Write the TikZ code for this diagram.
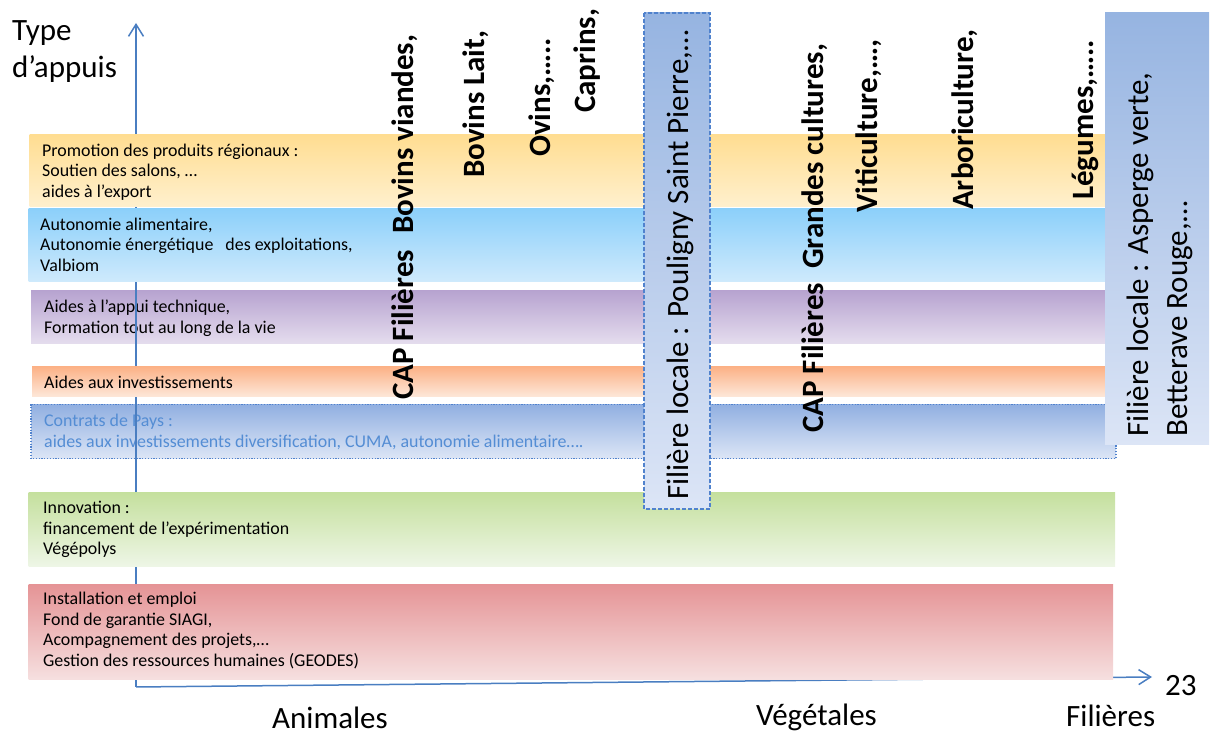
\documentclass[tikz,border=0pt]{standalone}
\usepackage{fontspec}
\setmainfont{Carlito}
\usetikzlibrary{arrows.meta}
\definecolor{axisblue}{RGB}{74,126,193}
\definecolor{yelT}{RGB}{255,221,145}\definecolor{yelB}{RGB}{255,240,206}
\definecolor{bluT}{RGB}{140,208,250}\definecolor{bluB}{RGB}{207,234,252}
\definecolor{purT}{RGB}{183,163,208}\definecolor{purB}{RGB}{229,221,238}
\definecolor{oraT}{RGB}{252,178,135}\definecolor{oraB}{RGB}{253,232,218}
\definecolor{conT}{RGB}{145,175,225}\definecolor{conB}{RGB}{220,229,246}
\definecolor{conLine}{RGB}{80,130,205}\definecolor{conText}{RGB}{84,141,212}
\definecolor{greT}{RGB}{197,224,158}\definecolor{greB}{RGB}{238,246,230}
\definecolor{redT}{RGB}{229,148,150}\definecolor{redB}{RGB}{246,224,224}
\definecolor{boxT}{RGB}{150,180,225}\definecolor{boxB}{RGB}{220,229,246}
\tikzset{
  bandtext/.style={anchor=base west, align=left, inner sep=0pt, text=black,
    font=\fontsize{17.9}{20.5}\selectfont},
  vtext/.style={rotate=90, anchor=base west, inner sep=0pt, text=black,
    font=\fontsize{31}{39}\selectfont\bfseries},
  vtextreg/.style={rotate=90, anchor=base west, inner sep=0pt, text=black, align=left,
    font=\fontsize{31}{39}\selectfont},
  bigtext/.style={anchor=base west, inner sep=0pt, text=black, align=left,
    font=\fontsize{31}{37}\selectfont},
  axisline/.style={draw=axisblue, line width=1.5pt,
    -{Straight Barb[length=12pt,width=15pt,line width=1.5pt]}},
  dashedbox/.style={draw=conLine, line width=1.2pt, dash pattern=on 4pt off 2pt},
  dottedbox/.style={draw=conLine, line width=1.2pt, dash pattern=on 1.2pt off 1.6pt}
}
\begin{document}
\begin{tikzpicture}[x=1pt,y=1pt]
\useasboundingbox (0,0) rectangle (1210,735);

% bands drawn below the axes (anchors are at the baseline of the last line)
\shade[top color=purT, bottom color=purB] (31,444.5) rectangle (1105,391);
\node[bandtext] (tpur) at (44,401.5) {Aides à l’appui technique,\\Formation tout au long de la vie};
\shadedraw[top color=conT, bottom color=conB, dottedbox] (31,330.5) rectangle (1116,276.5);
\node[bandtext, text=conText] (tcon) at (44,287.7) {Contrats de Pays :\\aides aux investissements diversification, CUMA, autonomie alimentaire….};

% axes
\coordinate (origin) at (136,48);
\coordinate (ytip) at (136,712);
\coordinate (xtip) at (1152,58);
\draw[axisline] (origin) -- (ytip);
\draw[axisline] (origin) -- (xtip);

% bands drawn above the axes
\shade[top color=yelT, bottom color=yelB] (29.5,600.5) rectangle (1105,528);
\node[bandtext] (tyel) at (42,537.7) {Promotion des produits régionaux :\\Soutien des salons, …\\aides à l’export};
\shade[top color=bluT, bottom color=bluB] (28.5,526) rectangle (1105,453);
\node[bandtext] (tblu) at (40,463.5) {Autonomie alimentaire,\\Autonomie énergétique\hspace{8pt} des exploitations,\\Valbiom};
\shade[top color=oraT, bottom color=oraB] (32,368) rectangle (1105,338);
\node[bandtext] (tora) at (44,346) {Aides aux investissements};
\shade[top color=greT, bottom color=greB] (28.5,242) rectangle (1115,168.5);
\node[bandtext] (tgre) at (43,180) {Innovation :\\financement de l’expérimentation\\Végépolys};
\shade[top color=redT, bottom color=redB] (28.5,150) rectangle (1113,55.3);
\node[bandtext] (tred) at (43,68.5) {Installation et emploi\\Fond de garantie SIAGI,\\Acompagnement des projets,…\\Gestion des ressources humaines (GEODES)};

% local chain boxes
\shadedraw[top color=boxT, bottom color=boxB, dashedbox] (644,722) rectangle (710,226);
\node[vtextreg] (pouligny) at (688,235) {Filière locale : Pouligny Saint Pierre,…};
\shade[top color=boxT, bottom color=boxB] (1105,722) rectangle (1209,290);
\node[vtextreg] (asperge) at (1187,298) {Filière locale : Asperge verte,\\Betterave Rouge,…};

% vertical bold labels
\node[vtext] (capA) at (413,335) {CAP Filières\hspace{16pt}Bovins viandes,};
\node[vtext] (bovlait) at (484,557) {Bovins Lait,};
\node[vtext] (ovins) at (550,578) {Ovins,…..};
\node[vtext] (caprins) at (595,622) {Caprins,};
\node[vtext] (capV) at (823,302) {CAP Filières\hspace{14pt}Grandes cultures,};
\node[vtext] (viti) at (877,522) {Viticulture,…,};
\node[vtext] (arbo) at (973,525) {Arboriculture,};
\node[vtext] (legumes) at (1093,535) {Légumes,…..};

% axis labels
\node[bigtext] (type) at (12,657) {Type\\d’appuis};
\node[bigtext] (animales) at (272,6) {Animales};
\node[bigtext] (vegetales) at (756,9) {Végétales};
\node[bigtext] (filieres) at (1066,8) {Filières};
\node[bigtext] (num) at (1165,39) {23};
\end{tikzpicture}
\end{document}
